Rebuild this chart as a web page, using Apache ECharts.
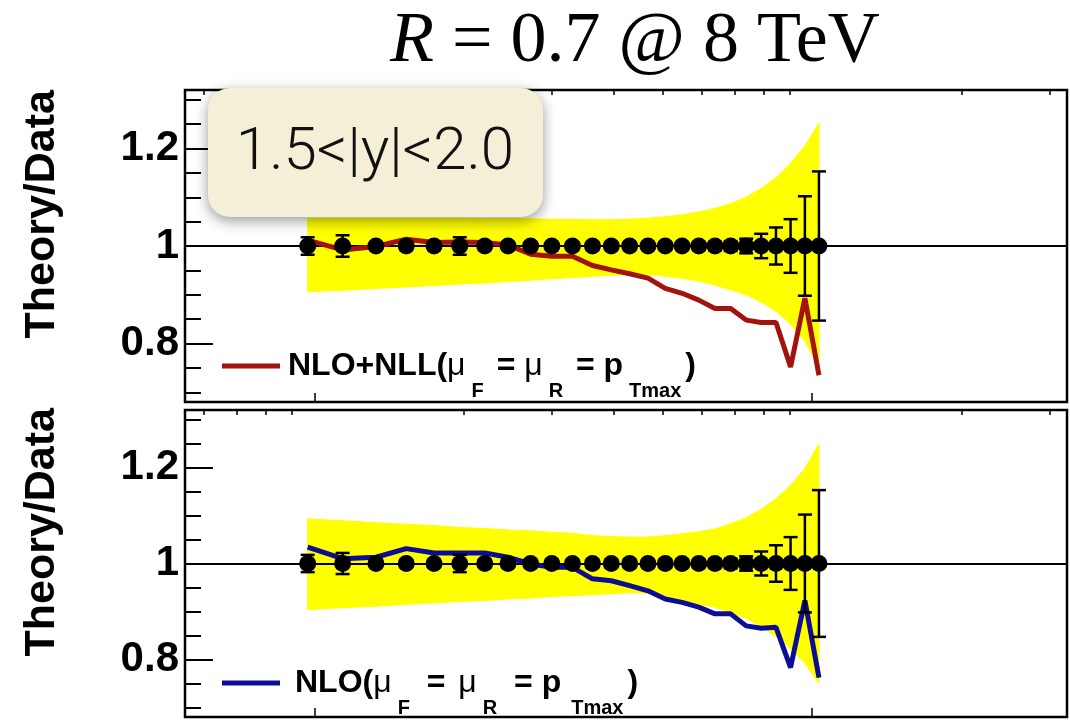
<!DOCTYPE html>
<html>
<head>
<meta charset="utf-8">
<title>Theory/Data, R = 0.7 @ 8 TeV</title>
<script src="https://cdn.jsdelivr.net/npm/echarts@6.0.0/dist/echarts.min.js"></script>
<style>
  html, body { margin: 0; padding: 0; background: #fff; }
  #main { width: 1070px; height: 720px; }
</style>
</head>
<body>
<div id="main"></div>
<script>
// 数据点的 pT (GeV)
const ptBins = [97, 114, 133, 153, 174, 196, 220, 245, 272, 300, 330, 362, 395, 430, 468, 507, 548, 592, 638, 686, 737, 790, 846, 905, 967, 1032];
const dataRatio = [1, 1, 1, 1, 1, 1, 1, 1, 1, 1, 1, 1, 1, 1, 1, 1, 1, 1, 1, 1, 1, 1, 1, 1, 1, 1];
const dataErr = [0.018, 0.022, 0.008, 0.008, 0.008, 0.018, 0.008, 0.008, 0.008, 0.008, 0.008, 0.008, 0.008, 0.008, 0.008, 0.008, 0.008, 0.008, 0.009, 0.010, 0.015, 0.025, 0.038, 0.055, 0.102, 0.153];

// NLO+NLL (上图)
const nllRatio = [1.012, 0.992, 0.999, 1.014, 1.007, 1.008, 1.007, 1.002, 0.983, 0.979, 0.979, 0.960, 0.951, 0.943, 0.934, 0.913, 0.903, 0.889, 0.872, 0.872, 0.848, 0.843, 0.843, 0.752, 0.893, 0.735];
const nllBandLow = [0.906, 0.909, 0.913, 0.916, 0.919, 0.922, 0.924, 0.927, 0.930, 0.933, 0.935, 0.938, 0.940, 0.941, 0.941, 0.938, 0.934, 0.928, 0.920, 0.910, 0.900, 0.885, 0.866, 0.840, 0.805, 0.750];
const nllBandHigh = [1.057, 1.057, 1.057, 1.057, 1.057, 1.057, 1.056, 1.056, 1.056, 1.055, 1.055, 1.054, 1.054, 1.055, 1.057, 1.060, 1.064, 1.070, 1.077, 1.087, 1.100, 1.118, 1.140, 1.170, 1.205, 1.252];

// NLO (下图)
const nloRatio = [1.034, 1.010, 1.013, 1.031, 1.022, 1.022, 1.022, 1.013, 0.999, 0.992, 0.992, 0.968, 0.964, 0.954, 0.943, 0.926, 0.919, 0.909, 0.895, 0.895, 0.870, 0.865, 0.867, 0.783, 0.923, 0.762];
const nloBandLow = [0.904, 0.908, 0.911, 0.915, 0.918, 0.921, 0.923, 0.926, 0.928, 0.931, 0.933, 0.935, 0.937, 0.939, 0.938, 0.928, 0.922, 0.915, 0.909, 0.897, 0.886, 0.868, 0.848, 0.823, 0.792, 0.750];
const nloBandHigh = [1.093, 1.089, 1.085, 1.082, 1.079, 1.075, 1.073, 1.070, 1.068, 1.065, 1.063, 1.058, 1.056, 1.055, 1.055, 1.058, 1.062, 1.066, 1.072, 1.083, 1.095, 1.113, 1.135, 1.163, 1.198, 1.249];

const yMajorTicks = [0.8, 1, 1.2];
const yMinorTicks = [0.7, 0.75, 0.85, 0.9, 0.95, 1.05, 1.1, 1.15, 1.25, 1.3];
const xMajorTicks = [100, 1000];
const xMinorTicks = [60, 70, 80, 90, 200, 300, 400, 500, 600, 700, 800, 900, 2000, 3000];

const labelFont = 'Liberation Sans';

function pairs(xs, ys) {
    return xs.map((x, i) => [x, ys[i]]);
}

// 误差棒
function renderErr(params, api) {
    const x = api.value(0), y = api.value(1), e = api.value(2);
    const hi = api.coord([x, y + e]);
    const lo = api.coord([x, y - e]);
    const w = 7;
    const st = { stroke: '#000', lineWidth: 2.5 };
    return {
        type: 'group',
        children: [
            { type: 'line', shape: { x1: hi[0], y1: hi[1], x2: lo[0], y2: lo[1] }, style: st },
            { type: 'line', shape: { x1: hi[0] - w, y1: hi[1], x2: hi[0] + w, y2: hi[1] }, style: st },
            { type: 'line', shape: { x1: lo[0] - w, y1: lo[1], x2: lo[0] + w, y2: lo[1] }, style: st }
        ]
    };
}

// 黄色误差带，每段一个四边形
function renderBand(params, api) {
    const a = api.coord([api.value(0), api.value(1)]);
    const b = api.coord([api.value(3), api.value(4)]);
    const c = api.coord([api.value(3), api.value(5)]);
    const d = api.coord([api.value(0), api.value(2)]);
    return {
        type: 'polygon',
        shape: { points: [a, b, c, d] },
        style: { fill: '#ffff00', stroke: '#ffff00', lineWidth: 1 }
    };
}

function bandSegments(low, high) {
    return ptBins.slice(0, -1).map((x, i) => [x, low[i], high[i], ptBins[i + 1], low[i + 1], high[i + 1]]);
}

function xAxes(grid) {
    const base = {
        type: 'log', logBase: 10, gridIndex: grid, min: 55, max: 3250, z: 10,
        axisLine: { show: false }, axisLabel: { show: false }, splitLine: { show: false }
    };
    return [
        Object.assign({}, base, { axisTick: { inside: true, length: 9, customValues: xMajorTicks, lineStyle: { color: '#000', width: 1.5 } } }),
        Object.assign({}, base, { axisTick: { inside: true, length: 5, customValues: xMinorTicks, lineStyle: { color: '#000', width: 1.5 } } })
    ];
}

function yAxes(grid) {
    const base = {
        type: 'value', gridIndex: grid, min: 0.68, max: 1.32, position: 'left', offset: 0, z: 10,
        axisLine: { show: false }, splitLine: { show: false }
    };
    return [
        Object.assign({}, base, {
            axisTick: { inside: true, length: 28, customValues: yMajorTicks, lineStyle: { color: '#000', width: 2 } },
            axisLabel: {
                customValues: yMajorTicks, margin: 6, color: '#000',
                fontFamily: labelFont, fontWeight: 'bold', fontSize: 42,
                formatter: v => String(v)
            }
        }),
        Object.assign({}, base, {
            axisTick: { inside: true, length: 16, customValues: yMinorTicks, lineStyle: { color: '#000', width: 2 } },
            axisLabel: { show: false }
        })
    ];
}

function panelSeries(p, name, color, ratio, low, high) {
    const ax = { xAxisIndex: 2 * p, yAxisIndex: 2 * p };
    return [
        Object.assign({
            type: 'custom', data: bandSegments(low, high),
            encode: { x: [0, 3], y: [1, 2, 4, 5] }, renderItem: renderBand, z: 1, silent: true,
            markLine: {
                silent: true, symbol: 'none', label: { show: false },
                lineStyle: { color: '#000', width: 2, type: 'solid' },
                data: [{ yAxis: 1 }]
            }
        }, ax),
        Object.assign({
            type: 'line', name: name, data: pairs(ptBins, ratio), symbol: 'none', z: 6,
            lineStyle: { color: color, width: 5 }, itemStyle: { color: color }
        }, ax),
        Object.assign({
            type: 'custom', data: ptBins.map((x, i) => [x, dataRatio[i], dataErr[i]]),
            encode: { x: 0, y: 1 }, renderItem: renderErr, z: 7, silent: true
        }, ax),
        Object.assign({
            type: 'scatter', data: pairs(ptBins, dataRatio), symbol: 'circle', symbolSize: 17,
            itemStyle: { color: '#000', opacity: 1 }, z: 8, silent: true
        }, ax)
    ];
}

const legendRich = {
    b: { fontFamily: labelFont, fontWeight: 'bold', fontSize: 32, lineHeight: 71, color: '#000' },
    b0: { fontFamily: labelFont, fontWeight: 'bold', fontSize: 32, lineHeight: 71, color: '#000', padding: [0, 0, 0, 3] },
    b1: { fontFamily: labelFont, fontWeight: 'bold', fontSize: 32, lineHeight: 71, color: '#000', padding: [0, 0, 0, 10] },
    e: { fontFamily: labelFont, fontWeight: 'bold', fontSize: 32, lineHeight: 71, color: '#000', padding: [0, 4, 0, 4] },
    m: { fontFamily: labelFont, fontWeight: 'normal', fontSize: 32, lineHeight: 71, color: '#000' },
    s: { fontFamily: labelFont, fontWeight: 'bold', fontSize: 20, lineHeight: 20, verticalAlign: 'bottom', padding: [0, 4, 0, 6], color: '#000' }
};

function makeLegend(name, top, text) {
    return {
        data: [name], left: 222, top: top, padding: 0, icon: 'rect',
        itemWidth: 58, itemHeight: 5, selectedMode: false,
        formatter: () => text,
        textStyle: { rich: legendRich }
    };
}

let myChart = echarts.init(document.getElementById('main'));
myChart.setOption({
    backgroundColor: '#fff',
    animation: false,
    title: {
        text: '{i|R} = 0.7 @ 8 TeV',
        left: 390, top: 6, padding: 0,
        textStyle: {
            fontFamily: 'Liberation Serif', fontWeight: 'normal', fontSize: 72, color: '#000',
            rich: { i: { fontFamily: 'Liberation Serif', fontStyle: 'italic', fontSize: 72, color: '#000' } }
        }
    },
    legend: [
        makeLegend('NLO+NLL', 350, '{b0|NLO+NLL(}{m|μ}{s|F}{b| = }{m|μ}{s|R}{b| = p}{s|Tmax}{b|)}'),
        makeLegend('NLO', 667, '{b1|NLO(}{m|μ}{s|F}{e| = }{m|μ}{s|R}{e| = p}{s|Tmax}{b|)}')
    ],
    grid: [
        { left: 185, top: 90, width: 882, height: 312, show: true, borderColor: '#000', borderWidth: 2.5, backgroundColor: 'transparent' },
        { left: 185, top: 410, width: 882, height: 307, show: true, borderColor: '#000', borderWidth: 2.5, backgroundColor: 'transparent' }
    ],
    xAxis: xAxes(0).concat(xAxes(1)),
    yAxis: yAxes(0).concat(yAxes(1)),
    series: panelSeries(0, 'NLO+NLL', '#a3120c', nllRatio, nllBandLow, nllBandHigh)
        .concat(panelSeries(1, 'NLO', '#0c0c94', nloRatio, nloBandLow, nloBandHigh)),
    graphic: [
        {
            type: 'text', x: 42, y: 90, rotation: Math.PI / 2,
            style: { text: 'Theory/Data', font: 'bold 43px "Liberation Sans"', fill: '#000', align: 'right', verticalAlign: 'middle' }
        },
        {
            type: 'text', x: 42, y: 408, rotation: Math.PI / 2,
            style: { text: 'Theory/Data', font: 'bold 43px "Liberation Sans"', fill: '#000', align: 'right', verticalAlign: 'middle' }
        },
        {
            type: 'rect', z: 100,
            shape: { x: 208, y: 88, width: 335, height: 129, r: 22 },
            style: { fill: '#f5efd8', shadowBlur: 14, shadowColor: 'rgba(0,0,0,0.4)', shadowOffsetY: 4 }
        },
        {
            type: 'text', z: 101, x: 375, y: 154,
            style: { text: '1.5<|y|<2.0', font: '300 60px Roboto', fill: '#111', align: 'center', verticalAlign: 'middle' }
        }
    ]
});
</script>
</body>
</html>
